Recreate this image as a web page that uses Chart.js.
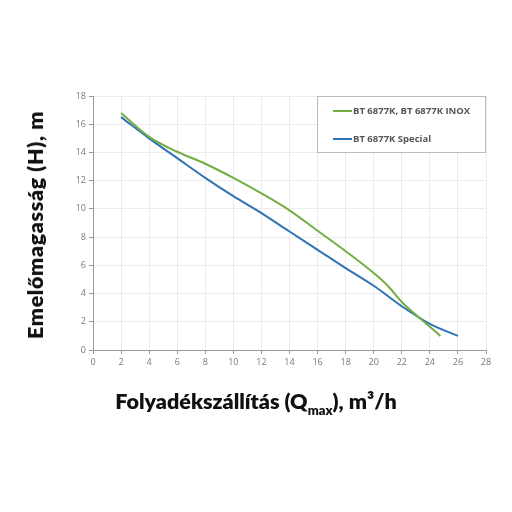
<!DOCTYPE html>
<html>
<head>
<meta charset="utf-8">
<script src="https://cdn.jsdelivr.net/npm/chart.js@4"></script>
<style>
  body { margin: 0; background: #fff; }
  #wrap { position: relative; width: 512px; height: 512px; }
  #xTitle { position: absolute; left: 0; width: 512px; top: 388px; text-align: center;
    font: 800 21.5px Lato, "Open Sans", sans-serif; color: #111; }
  #xTitle sub { font-size: 13px; vertical-align: -6px; line-height: 0; }
  #yTitle { position: absolute; left: 35px; top: 225px; transform: translate(-50%, -50%) rotate(-90deg);
    white-space: nowrap; font: 800 21.5px Lato, "Open Sans", sans-serif; color: #111; letter-spacing: 0.6px; }
</style>
</head>
<body>
<div id="wrap">
  <canvas id="myChart" width="512" height="512"></canvas>
  <div id="yTitle">Emelőmagasság (H), m</div>
  <div id="xTitle">Folyadékszállítás (Q<sub>max</sub>), m³/h</div>
</div>
<script>
const greenLabel = 'BT 6877K, BT 6877K INOX';
const greenQ = [2, 4, 6, 8, 10, 12, 14, 16, 18, 20, 21, 22, 23, 24, 24.75];
const greenH = [16.8, 15.1, 14.05, 13.2, 12.2, 11.1, 9.9, 8.45, 7.0, 5.45, 4.55, 3.4, 2.5, 1.65, 1.0];

const blueLabel = 'BT 6877K Special';
const blueQ = [2, 4, 6, 8, 10, 12, 14, 16, 18, 20, 22, 24, 26];
const blueH = [16.5, 15.0, 13.6, 12.2, 10.9, 9.7, 8.4, 7.1, 5.8, 4.55, 3.1, 1.85, 1.0];

const xMax = 28;
const yMax = 18;

function pts(xs, ys) {
    return xs.map((x, i) => ({x: x, y: ys[i]}));
}

// legend box drawn inside the plot area, top right
const boxLegend = {
    id: 'boxLegend',
    afterDraw(chart) {
        const ctx = chart.ctx;
        const area = chart.chartArea;
        const w = 169, h = 57;
        const left = area.right - w, top = area.top;
        ctx.save();
        ctx.fillStyle = '#fff';
        ctx.fillRect(left, top, w, h);
        ctx.strokeStyle = '#bbb';
        ctx.lineWidth = 1;
        ctx.strokeRect(left + 0.5, top + 0.5, w - 1, h - 1);
        ctx.font = 'bold 9.5px "Open Sans", sans-serif';
        ctx.textBaseline = 'middle';
        chart.data.datasets.forEach((ds, i) => {
            const y = top + 15 + i * 28;
            ctx.strokeStyle = ds.borderColor;
            ctx.lineWidth = 2;
            ctx.beginPath();
            ctx.moveTo(left + 16, y);
            ctx.lineTo(left + 35, y);
            ctx.stroke();
            ctx.fillStyle = '#555';
            ctx.fillText(ds.label, left + 36, y);
        });
        ctx.restore();
    }
};

const ctx = document.getElementById('myChart').getContext('2d');
const myChart = new Chart(ctx, {
    type: 'line',
    data: {
        datasets: [{
            label: greenLabel,
            data: pts(greenQ, greenH),
            borderColor: '#73ae45',
            borderWidth: 2,
            pointRadius: 0,
            cubicInterpolationMode: 'monotone'
        }, {
            label: blueLabel,
            data: pts(blueQ, blueH),
            borderColor: '#2f74b5',
            borderWidth: 2,
            pointRadius: 0,
            cubicInterpolationMode: 'monotone'
        }]
    },
    options: {
        responsive: false,
        animation: false,
        layout: { padding: { top: 96, right: 26, left: 0, bottom: 0 } },
        plugins: { legend: { display: false }, tooltip: { enabled: false } },
        scales: {
            x: {
                type: 'linear',
                min: 0,
                max: xMax,
                ticks: { stepSize: 2, color: '#777', font: { size: 9, family: '"Open Sans", sans-serif' }, maxRotation: 0 },
                grid: { color: '#ececec', tickColor: '#999', tickLength: 4 },
                border: { color: '#999' },
                afterFit(scale) { scale.height = 162; }
            },
            y: {
                min: 0,
                max: yMax,
                ticks: { stepSize: 2, color: '#777', font: { size: 9, family: '"Open Sans", sans-serif' } },
                grid: { color: '#ececec', tickColor: '#999', tickLength: 4 },
                border: { color: '#999' },
                afterFit(scale) { scale.width = 93; }
            }
        }
    },
    plugins: [boxLegend]
});
</script>
</body>
</html>
